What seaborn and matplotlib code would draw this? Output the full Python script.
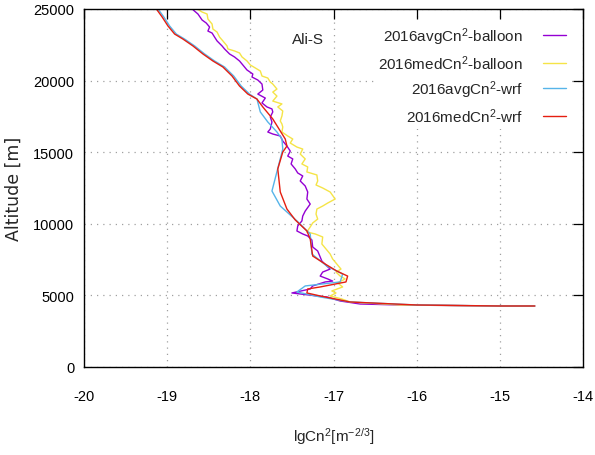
import matplotlib
matplotlib.use("Agg")
import matplotlib.pyplot as plt
import seaborn as sns
import pandas as pd

# ---------------- data ----------------
avg_balloon_x = [-18.70, -18.63, -18.58, -18.53, -18.49, -18.51, -18.46, -18.43, -18.40, -18.34,
                 -18.31, -18.25, -18.19, -18.13, -18.09, -18.04, -17.97, -17.98, -17.91, -17.86,
                 -17.85, -17.91, -17.82, -17.86, -17.80, -17.74, -17.73, -17.76, -17.74, -17.76,
                 -17.79, -17.73, -17.64, -17.61, -17.56, -17.52, -17.55, -17.49, -17.51, -17.46,
                 -17.43, -17.37, -17.40, -17.34, -17.31, -17.32, -17.28, -17.34, -17.37, -17.38,
                 -17.43, -17.44, -17.37, -17.31, -17.26, -17.25, -17.19, -17.16, -17.14, -17.08,
                 -17.04, -17.13, -17.16, -17.07, -17.01, -17.10, -17.25, -17.28, -17.50, -17.40,
                 -17.20, -17.08, -16.92, -16.68, -16.20, -15.00, -14.58]
avg_balloon_h = [25000, 24650, 24230, 24020, 23740, 23460, 23320, 23040, 22770, 22420,
                 22210, 21860, 21650, 21370, 21090, 20740, 20460, 20250, 20040, 19760,
                 19340, 19060, 18780, 18440, 18160, 18020, 17810, 17460, 17110, 16620,
                 16410, 16270, 16130, 15780, 15430, 15080, 14730, 14530, 14180, 13830,
                 13550, 13340, 12990, 12640, 12220, 11730, 11380, 10890, 10540, 10200,
                 9850, 9500, 9290, 9150, 8870, 8380, 8100, 7680, 7400, 7050,
                 6840, 6630, 6350, 6150, 6000, 5940, 5660, 5450, 5170, 5100,
                 4960, 4890, 4610, 4400, 4330, 4260, 4260]

med_balloon_x = [-18.64, -18.58, -18.52, -18.51, -18.46, -18.45, -18.40, -18.37, -18.33, -18.28,
                 -18.27, -18.19, -18.13, -18.10, -18.04, -18.00, -17.94, -17.88, -17.86, -17.79,
                 -17.76, -17.73, -17.68, -17.73, -17.68, -17.73, -17.62, -17.67, -17.61, -17.62,
                 -17.64, -17.62, -17.61, -17.62, -17.55, -17.49, -17.52, -17.44, -17.37, -17.40,
                 -17.34, -17.38, -17.31, -17.32, -17.20, -17.19, -17.21, -17.13, -17.04, -16.98,
                 -17.07, -17.13, -17.20, -17.21, -17.19, -17.25, -17.28, -17.32, -17.22, -17.13,
                 -17.14, -17.09, -17.04, -17.01, -16.96, -16.91, -16.97, -16.92, -16.86, -16.95,
                 -16.89, -17.02, -16.97, -17.04, -16.90, -16.80, -16.20, -15.00, -14.58]
med_balloon_h = [25000, 24790, 24650, 24300, 23950, 23600, 23390, 23040, 22770, 22420,
                 22210, 22070, 21930, 21650, 21370, 21090, 20880, 20670, 20320, 20180,
                 19900, 19760, 19410, 19200, 18920, 18570, 18370, 18160, 17880, 17530,
                 17180, 16970, 16760, 16410, 16130, 15920, 15640, 15360, 15220, 14870,
                 14530, 14180, 13970, 13620, 13410, 12990, 12710, 12500, 12220, 11730,
                 11450, 11240, 11030, 10680, 10330, 10060, 9780, 9430, 9290, 9080,
                 8590, 8240, 7890, 7540, 7190, 6840, 6630, 6350, 6150, 5870,
                 5590, 5310, 5170, 4960, 4750, 4540, 4330, 4260, 4260]

avg_wrf_x = [-19.11, -19.04, -18.97, -18.89, -18.79, -18.67, -18.55, -18.43, -18.31, -18.20,
             -18.11, -18.01, -17.92, -17.88, -17.79, -17.68, -17.62, -17.61, -17.74, -17.64,
             -17.44, -17.28, -17.26, -17.08, -16.89, -16.92, -17.34, -17.44, -17.16, -16.80,
             -16.00, -15.00, -14.58]
avg_wrf_h = [25000, 24440, 23810, 23250, 22900, 22420, 21860, 21370, 20950, 20320,
             19620, 19060, 18710, 17810, 17110, 16410, 15920, 15220, 12290, 11240,
             10200, 9290, 7890, 7050, 6490, 5940, 5660, 5240, 4890, 4540,
             4330, 4260, 4260]

med_wrf_x = [-19.13, -19.06, -18.99, -18.91, -18.81, -18.69, -18.57, -18.45, -18.33, -18.22,
             -18.13, -18.03, -17.92, -17.85, -17.73, -17.64, -17.58, -17.56, -17.61, -17.67,
             -17.64, -17.56, -17.46, -17.32, -17.28, -17.25, -17.10, -16.96, -16.83, -16.85,
             -17.16, -17.31, -17.32, -17.16, -16.80, -16.00, -15.00, -14.58]
med_wrf_h = [25000, 24440, 23810, 23250, 22900, 22420, 21860, 21370, 20950, 20320,
             19620, 19060, 18710, 18160, 17320, 16480, 15920, 15430, 15010, 13830,
             12220, 11030, 10270, 9500, 8940, 7750, 7190, 6700, 6350, 5940,
             5590, 5450, 5170, 4960, 4540, 4330, 4260, 4260]

series_labels = ["2016avgCn$^2$-balloon", "2016medCn$^2$-balloon",
                 "2016avgCn$^2$-wrf", "2016medCn$^2$-wrf"]
series_colors = ["#9400d3", "#f5e447", "#56b4e9", "#e51e10"]
x_ticks = [-20, -19, -18, -17, -16, -15, -14]
y_ticks = [0, 5000, 10000, 15000, 20000, 25000]

# ---------------- style ----------------
sns.set_style("white")
FONT = "Liberation Sans"
plt.rcParams["font.family"] = [FONT, "DejaVu Sans"]
plt.rcParams["mathtext.fontset"] = "custom"
plt.rcParams["mathtext.rm"] = FONT
plt.rcParams["mathtext.it"] = FONT
plt.rcParams["mathtext.default"] = "regular"

FS = 10.5

fig = plt.figure(figsize=(5.95, 4.56), dpi=100)
ax = fig.add_axes([84 / 595, 1 - 368 / 456, (583 - 84) / 595, (368 - 10) / 456])

frames = []
for xs, hs, lab in [(avg_balloon_x, avg_balloon_h, series_labels[0]),
                    (med_balloon_x, med_balloon_h, series_labels[1]),
                    (avg_wrf_x, avg_wrf_h, series_labels[2]),
                    (med_wrf_x, med_wrf_h, series_labels[3])]:
    frames.append(pd.DataFrame({"x": xs, "h": hs, "series": lab}))
df = pd.concat(frames, ignore_index=True)

sns.lineplot(data=df, x="x", y="h", hue="series", hue_order=series_labels,
             palette=series_colors, sort=False, estimator=None, linewidth=1.0,
             ax=ax, legend=True)

ax.set_xlim(-20, -14)
ax.set_ylim(0, 25000)
ax.set_xticks(x_ticks)
ax.set_yticks(y_ticks)
ax.set_xticklabels([str(t) for t in x_ticks])
ax.set_yticklabels([str(t) for t in y_ticks])

ax.grid(True, linestyle=(0, (1, 4)), color="#a0a0a0", linewidth=0.9)
for s in ax.spines.values():
    s.set_color("black")
    s.set_linewidth(1.0)
ax.tick_params(axis="both", which="major", direction="in", length=7, width=0.9,
               top=True, right=True, labelsize=FS, colors="black")
ax.tick_params(axis="x", pad=16)
ax.tick_params(axis="y", pad=7)

ax.set_xlabel("lgCn$^2$[m$^{-2/3}$]", fontsize=FS + 0.5)
ax.xaxis.set_label_coords(0.5, -0.163)
ax.set_ylabel("Altitude [m]", fontsize=12.5, family="DejaVu Sans")
ax.yaxis.set_label_coords(-0.122, 0.5)

ax.text(-17.5, 22900, "Ali-S", fontsize=FS + 0.5, ha="left", va="center")

leg = ax.legend(loc="upper right", bbox_to_anchor=(0.975, 0.968), frameon=True,
                facecolor="white", edgecolor="none", framealpha=1.0,
                fontsize=FS + 0.5, markerfirst=False, handlelength=1.5,
                labelspacing=0.42, borderaxespad=0, handletextpad=1.3,
                borderpad=0.3)
for line in leg.get_lines():
    line.set_linewidth(1.0)

fig.savefig("out.png", dpi=100)
